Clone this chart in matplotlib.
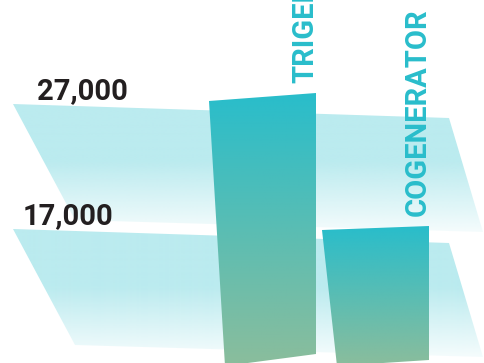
import numpy as np
import matplotlib.pyplot as plt
from matplotlib.patches import Polygon
from matplotlib.colors import to_rgb

# data
levels = [27000, 17000]
level_labels = ["27,000", "17,000"]
categories = ["TRIGENERATOR", "COGENERATOR"]
values = [27000, 17000]

# canvas: x in pixels, y in value units
W, H = 484, 363
PX = 80                      # value units per vertical pixel
y_hi = levels[0] + 104 * PX
y_lo = y_hi - H * PX

teal = "#29bdcb"
sage = "#8bbd9c"
plane_col = "#bbebef"
ink = "#231f20"

# plane outline: (x, pixels below the level line)
plane_shape = [(13, 0), (449, 14), (483, 128), (75, 116)]
label_x = [37, 23]

# bars: top-left x, right x, bottom-left x; top lift (px) left/right; bottom px left/right
bar_geom = [
    dict(xl=209, xr=316, xb=225, lift=(3, 11), base=(366, 354)),
    dict(xl=322, xr=429, xb=337, lift=(-1, 3), base=(366, 360)),
]


def px_to_y(px):
    return y_hi - px * PX


def gradient_poly(ax, verts, top_rgba, bot_rgba, alpha=None, z=1):
    verts = np.asarray(verts, float)
    patch = Polygon(verts, closed=True, facecolor="none", edgecolor="none", zorder=z)
    ax.add_patch(patch)
    t = np.linspace(0, 1, 256)[:, None]
    img = np.zeros((256, 1, 4))
    for k in range(3):
        img[:, :, k] = top_rgba[k] * (1 - t) + bot_rgba[k] * t
    img[:, :, 3] = 1.0 if alpha is None else alpha(t)
    x0, x1 = verts[:, 0].min(), verts[:, 0].max()
    y0, y1 = verts[:, 1].min(), verts[:, 1].max()
    im = ax.imshow(img, extent=[x0, x1, y0, y1], aspect="auto",
                   origin="upper", interpolation="bilinear", zorder=z)
    im.set_clip_path(patch)


fig = plt.figure(figsize=(W / 100, H / 100), dpi=100)
ax = fig.add_axes([0, 0, 1, 1])

# translucent level planes
pc = to_rgb(plane_col)
fade = lambda t: np.clip(1 - (t - 0.45) / 0.55 * 0.85, 0.15, 1)
for i, (lev, lab) in enumerate(zip(levels, level_labels)):
    verts = [(x, lev - d * PX) for x, d in plane_shape]
    gradient_poly(ax, verts, pc, pc, alpha=fade, z=1 + i)
    ax.text(label_x[i], lev + 5 * PX, lab, fontsize=21, fontweight="bold",
            color=ink, family=["Roboto", "DejaVu Sans"],
            ha="left", va="baseline", zorder=5)

# gradient bars with rotated category labels
for val, cat, g in zip(values, categories, bar_geom):
    top_l = val + g["lift"][0] * PX
    top_r = val + g["lift"][1] * PX
    verts = [(g["xl"], top_l), (g["xr"], top_r),
             (g["xr"], px_to_y(g["base"][1])), (g["xb"], px_to_y(g["base"][0]))]
    gradient_poly(ax, verts, to_rgb(teal), to_rgb(sage), z=4)
    ax.text(g["xr"] - 3, top_r + 10 * PX, cat, rotation=90, rotation_mode="anchor",
            ha="left", va="baseline", fontsize=21, fontweight="bold", color=teal,
            family=["Liberation Sans Narrow", "Roboto", "DejaVu Sans"], zorder=5)

ax.set_xlim(0, W)
ax.set_ylim(y_lo, y_hi)
ax.axis("off")

fig.savefig("out.png", dpi=100)
